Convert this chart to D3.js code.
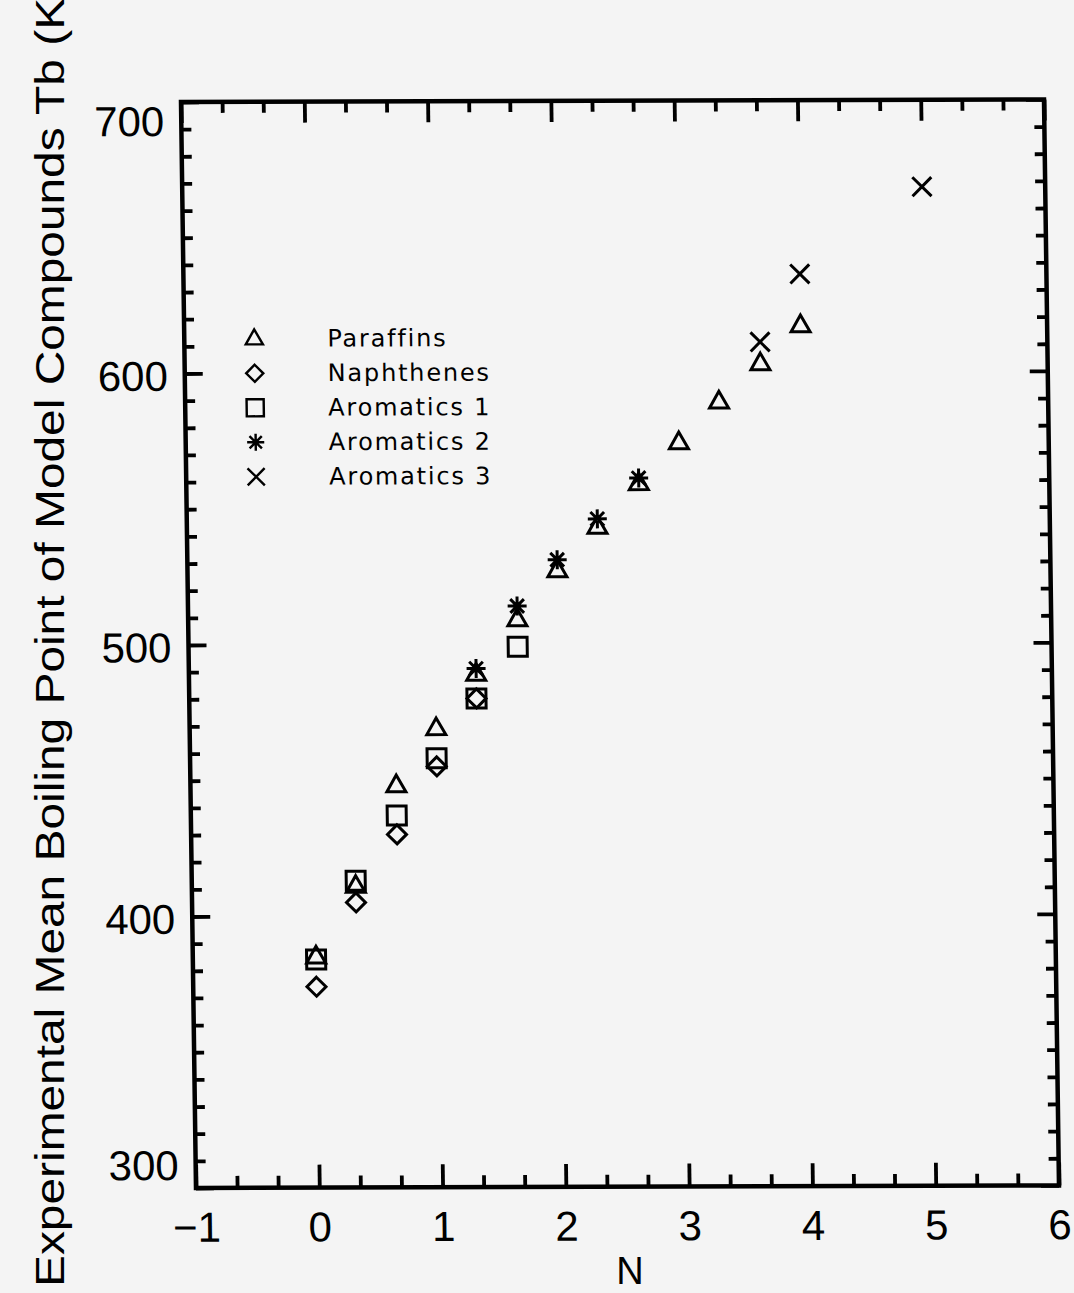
<!DOCTYPE html>
<html>
<head>
<meta charset="utf-8">
<script src="https://cdn.jsdelivr.net/npm/d3@7"></script>
<style>
  html, body { margin: 0; padding: 0; background: #f4f4f4; }
  svg { display: block; }
</style>
</head>
<body>
<svg id="chart" width="1074" height="1293"></svg>
<script>
// ---- data ----
const paraffinsN  = [0, 0.33, 0.67, 1, 1.33, 1.67, 2, 2.33, 2.67, 3, 3.33, 3.67, 4];
const paraffinsTb = [385, 411, 448, 469, 489, 509, 527, 543, 559, 574, 589, 603, 617];
const naphthenesN  = [0, 0.33, 0.67, 1, 1.33];
const naphthenesTb = [374, 405, 430, 455, 480];
const aromatics1N  = [0, 0.33, 0.67, 1, 1.33, 1.67];
const aromatics1Tb = [384, 413, 437, 458, 480, 499];
const aromatics2N  = [1.33, 1.67, 2, 2.33, 2.67];
const aromatics2Tb = [491, 514, 531, 546, 561];
const aromatics3N  = [3.67, 4, 5];
const aromatics3Tb = [611, 636, 668];

const seriesNames = ["Paraffins", "Naphthenes", "Aromatics 1", "Aromatics 2", "Aromatics 3"];
const seriesSymbols = ["triangle", "diamond", "square", "star", "cross"];

const xMajorTicks = [-1, 0, 1, 2, 3, 4, 5, 6];
const yMajorTicks = [300, 400, 500, 600, 700];
const xDomain = [-1, 6];
const yDomain = [300, 700];
const xTitle = "N";
const yTitle = "Experimental Mean Boiling Point of Model Compounds Tb (K)";

// ---- layout ----
const W = 863, H = 1086, ox = 181, oy = 102;
const skewC = 0.0138, skewB = -0.003;   // scanned page distortion

const svg = d3.select("#chart");
svg.append("rect").attr("width", 1074).attr("height", 1293).attr("fill", "#f4f4f4");

const g = svg.append("g")
  .attr("transform", `matrix(1, ${skewB}, ${skewC}, 1, ${ox}, ${oy})`);

const x = d3.scaleLinear().domain(xDomain).range([0, W]);
const y = d3.scaleLinear().domain(yDomain).range([H, 0]);

const xMinor = d3.range(-1, 6.0001, 1/3).filter(v => Math.abs(v - Math.round(v)) > 1e-6);
const yMinor = d3.range(300, 700.001, 10).filter(v => v % 100 !== 0);

const tickW = 3.8;
function styleAxis(sel) {
  sel.select(".domain").remove();
  sel.selectAll(".tick line").attr("stroke", "#000").attr("stroke-width", tickW);
}

// bottom
g.append("g").attr("transform", `translate(0,${H})`)
  .call(d3.axisBottom(x).tickValues(xMajorTicks).tickSize(-23).tickPadding(24)
        .tickFormat(d => d < 0 ? "\u2212" + Math.abs(d) : d))
  .call(styleAxis)
  .call(s => s.selectAll("text").attr("font-family", "Liberation Sans, Arial, sans-serif")
        .attr("font-size", 42).attr("fill", "#000"));
g.append("g").attr("transform", `translate(0,${H})`)
  .call(d3.axisBottom(x).tickValues(xMinor).tickSize(-12).tickFormat(""))
  .call(styleAxis);
// top
g.append("g")
  .call(d3.axisTop(x).tickValues(xMajorTicks).tickSize(-21).tickFormat(""))
  .call(styleAxis);
g.append("g")
  .call(d3.axisTop(x).tickValues(xMinor).tickSize(-11).tickFormat(""))
  .call(styleAxis);
// left
g.append("g")
  .call(d3.axisLeft(y).tickValues(yMajorTicks).tickSize(-18).tickPadding(17))
  .call(styleAxis)
  .call(s => s.selectAll("text").attr("font-family", "Liberation Sans, Arial, sans-serif")
        .attr("font-size", 42).attr("fill", "#000")
        .attr("dy", d => d === 700 ? "0.8em" : d === 300 ? "-0.2em" : "0.4em"));
g.append("g")
  .call(d3.axisLeft(y).tickValues(yMinor).tickSize(-10).tickFormat(""))
  .call(styleAxis);
// right
g.append("g").attr("transform", `translate(${W},0)`)
  .call(d3.axisRight(y).tickValues(yMajorTicks).tickSize(-18).tickFormat(""))
  .call(styleAxis);
g.append("g").attr("transform", `translate(${W},0)`)
  .call(d3.axisRight(y).tickValues(yMinor).tickSize(-10).tickFormat(""))
  .call(styleAxis);

// frame
g.append("rect").attr("x", 0).attr("y", 0).attr("width", W).attr("height", H)
  .attr("fill", "none").attr("stroke", "#000").attr("stroke-width", 4.5);

// ---- markers ----
function symbolPath(type) {
  const r = 9.5;
  switch (type) {
    case "triangle": return `M0,${-r - 1}L${r},${r * 0.65}L${-r},${r * 0.65}Z`;
    case "diamond":  return `M0,${-r}L${r},0L0,${r}L${-r},0Z`;
    case "square":   return `M${-r},${-r}H${r}V${r}H${-r}Z`;
    case "star": {
      const d = r * 0.72;
      return `M0,${-r}V${r}M${-r},0H${r}M${-d},${-d}L${d},${d}M${-d},${d}L${d},${-d}`;
    }
    case "cross": {
      const d = r;
      return `M${-d},${-d}L${d},${d}M${-d},${d}L${d},${-d}`;
    }
  }
}

const seriesData = [
  [paraffinsN, paraffinsTb],
  [naphthenesN, naphthenesTb],
  [aromatics1N, aromatics1Tb],
  [aromatics2N, aromatics2Tb],
  [aromatics3N, aromatics3Tb]
];

seriesData.forEach(([ns, tbs], i) => {
  const pts = ns.map((n, j) => ({ n, tb: tbs[j] }));
  g.append("g").selectAll("path").data(pts).join("path")
    .attr("transform", d => `translate(${x(d.n)},${y(d.tb)})`)
    .attr("d", symbolPath(seriesSymbols[i]))
    .attr("fill", "none").attr("stroke", "#000").attr("stroke-width", 3)
    .attr("stroke-linejoin", "miter");
});

// ---- legend ----
const legend = g.append("g").attr("transform", "translate(70,237)");
seriesNames.forEach((name, i) => {
  const row = legend.append("g").attr("transform", `translate(0,${i * 34.5})`);
  row.append("path").attr("d", symbolPath(seriesSymbols[i]))
    .attr("transform", "scale(0.9)")
    .attr("fill", "none").attr("stroke", "#000").attr("stroke-width", 2.7);
  row.append("text").attr("x", 73).attr("y", 8)
    .attr("font-family", "DejaVu Sans, sans-serif").attr("font-size", 24)
    .attr("letter-spacing", 1.8)
    .attr("fill", "#000").text(name);
});

// ---- axis titles ----
svg.append("text").attr("x", 630).attr("y", 1284).attr("text-anchor", "middle")
  .attr("font-family", "Liberation Sans, Arial, sans-serif").attr("font-size", 38)
  .attr("fill", "#000").text(xTitle);

svg.append("text").attr("transform", "translate(64,1287) rotate(-90)")
  .attr("text-anchor", "start")
  .attr("font-family", "Liberation Sans, Arial, sans-serif").attr("font-size", 40)
  .attr("textLength", 1305).attr("lengthAdjust", "spacingAndGlyphs")
  .attr("fill", "#000").text(yTitle);
</script>
</body>
</html>
